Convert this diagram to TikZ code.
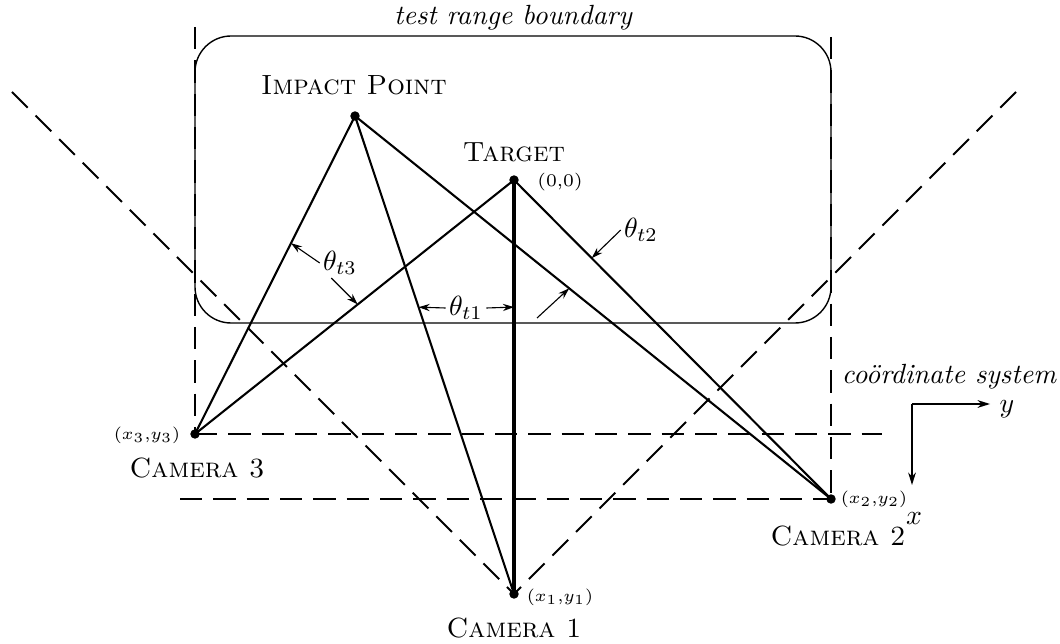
\documentclass[tikz,border=0pt]{standalone}
\usetikzlibrary{arrows.meta,calc}
\begin{document}
\begin{tikzpicture}[x=0.36pt,y=-0.36pt,
  campt/.style={circle,fill,inner sep=0pt,minimum size=3.4pt},
  ray/.style={line width=0.75pt},
  guide/.style={line width=0.7pt,dash pattern=on 8pt off 4pt},
  angarr/.style={line width=0.4pt,-{Stealth[length=4pt,width=2.6pt]}},
  axarr/.style={line width=0.5pt,-{Stealth[length=4.5pt,width=2.8pt]}},
  lbl/.style={font=\normalsize\scshape,inner sep=0pt},
  crd/.style={font=\fontsize{6.4pt}{7.5pt}\selectfont,inner sep=0pt},
  anglbl/.style={inner sep=1pt}]
\useasboundingbox (0,0) rectangle (1060,644);

% test range boundary
\draw[line width=0.5pt,rounded corners=13pt] (195,36) rectangle (831,323);

% points
\node[campt] (IP) at (355,116) {};
\node[campt] (T) at (514,180) {};
\node[campt] (C3) at (195,434) {};
\node[campt] (C2) at (831,499) {};
\node[campt] (C1) at (514,594) {};

% free ends of dashed guides
\coordinate (vl) at (195,27);
\coordinate (vr) at (831,37);
\coordinate (hr) at (882,434);
\coordinate (hl) at (180,499);
\coordinate (dl) at (12,92);
\coordinate (dr) at (1016,92);

\draw[guide] (vl) -- (C3.center);
\draw[guide] (vr) -- (C2.center);
\draw[guide] (C3.center) -- (hr);
\draw[guide] (hl) -- (C2.center);
\draw[guide] (dl) -- (C1.center);
\draw[guide] (dr) -- (C1.center);

% sight lines
\draw[ray] (IP.center) -- (C3.center);
\draw[ray] (IP.center) -- (C1.center);
\draw[ray] (IP.center) -- (C2.center);
\draw[ray] (T.center) -- (C3.center);
\draw[ray] (T.center) -- (C2.center);
\draw[ray,line width=1.1pt] (T.center) -- (C1.center);

% labels
\node[font=\itshape] (trb) at (513,18) {test range boundary};
\node[lbl] (ipl) at (354,85) {Impact Point};
\node[lbl] (tl) at (514,152) {Target};
\node[crd] (tc) at (560,182) {(0,0)};
\node[crd] (c3c) at (147,435) {$(x_3{,}y_3)$};
\node[lbl] (c3l) at (197,468) {Camera 3};
\node[crd] (c2c) at (874,499) {$(x_2{,}y_2)$};
\node[lbl] (c2l) at (838,536) {Camera 2};
\node[crd] (c1c) at (560,597) {$(x_1{,}y_1)$};
\node[lbl] (c1l) at (514,628) {Camera 1};

% coordinate system
\node[font=\itshape,inner sep=0pt] (cs) at (949,377) {co\"ordinate system};
\coordinate (O) at (912,404);
\coordinate (ya) at (990,404);
\coordinate (xa) at (912,485);
\draw[axarr] (O) -- (ya);
\draw[axarr] (O) -- (xa);
\node[inner sep=0pt] (yl) at (1007,409) {$y$};
\node[inner sep=0pt] (xl) at (914,519) {$x$};

% angle labels
\node[anglbl] (th3) at (340,263) {$\theta_{t3}$};
\node[anglbl] (th1) at (466,308) {$\theta_{t1}$};
\node[anglbl] (th2) at (641,230) {$\theta_{t2}$};
\coordinate (t2s) at (537,318);
\draw[angarr] (th3.west) -- ($(IP)!0.40!(C3)$);
\draw[angarr] (th3.-120) -- ($(T)!0.49!(C3)$);
\draw[angarr] (th1.west) -- ($(IP)!0.40!(C1)$);
\draw[angarr] (th1.east) -- ($(T)!0.307!(C1)$);
\draw[angarr] (th2.west) -- ($(T)!0.245!(C2)$);
\draw[angarr] (t2s) -- ($(IP)!0.45!(C2)$);
\end{tikzpicture}
\end{document}
